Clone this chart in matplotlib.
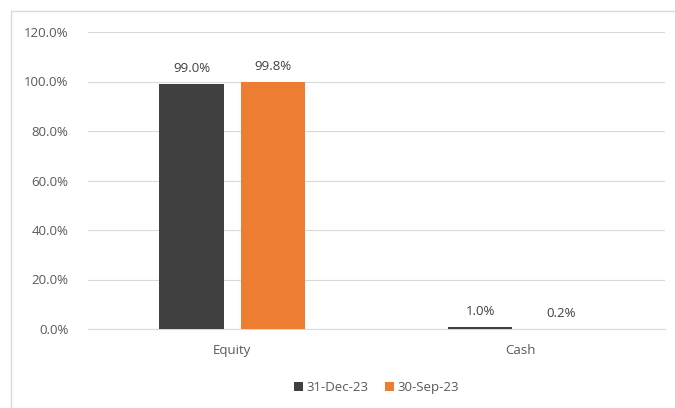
import matplotlib.pyplot as plt
from matplotlib.patches import Rectangle
from matplotlib.ticker import FuncFormatter
import numpy as np

categories = ["Equity", "Cash"]
series_names = ["31-Dec-23", "30-Sep-23"]
dec_23 = [99.0, 1.0]
sep_23 = [99.8, 0.2]
y_ticks = [0, 20, 40, 60, 80, 100, 120]

colors = ["#404040", "#ED7D31"]
text_color = "#595959"

plt.rcParams['font.family'] = ['Open Sans', 'DejaVu Sans']

fig = plt.figure(figsize=(6.75, 4.08), dpi=100)
ax = fig.add_axes([88 / 675, 1 - 329 / 408, (665 - 88) / 675, (329 - 32) / 408])

# chart frame (left and top edges only visible)
fig.patches.append(Rectangle((11 / 675, -0.1), 1.2, 1 - 11 / 408 + 0.1,
                             transform=fig.transFigure, fill=False,
                             edgecolor="#D9D9D9", linewidth=1))

fs = 9.5
x = np.arange(len(categories))
width = 0.223
offset = 0.141
for i, (vals, name) in enumerate(zip([dec_23, sep_23], series_names)):
    pos = x + (offset if i else -offset)
    bars = ax.bar(pos, vals, width, color=colors[i], label=name, zorder=3)
    for b, v in zip(bars, vals):
        ax.text(b.get_x() + b.get_width() / 2, v + 3.5, f"{v:.1f}%",
                ha="center", va="bottom", fontsize=fs, color="#404040")

ax.set_xlim(-0.5, 1.5)
ax.set_ylim(0, 120)
ax.set_yticks(y_ticks)
ax.yaxis.set_major_formatter(FuncFormatter(lambda v, _: f"{v:.1f}%"))
ax.set_xticks(x)
ax.set_xticklabels(categories)
ax.tick_params(axis="both", length=0, labelsize=fs, labelcolor=text_color)
ax.tick_params(axis="y", pad=14)
ax.tick_params(axis="x", pad=11)
ax.grid(axis="y", color="#D9D9D9", linewidth=0.8, zorder=0)
for s in ["top", "right", "left"]:
    ax.spines[s].set_visible(False)
ax.spines["bottom"].set_color("#D9D9D9")

ax.legend(loc="upper center", bbox_to_anchor=(0.5, -0.135), ncol=2, frameon=False,
          fontsize=fs, handlelength=0.7, handleheight=0.7, handletextpad=0.3,
          columnspacing=1.2, labelcolor=text_color)

fig.savefig("out.png", dpi=100)
